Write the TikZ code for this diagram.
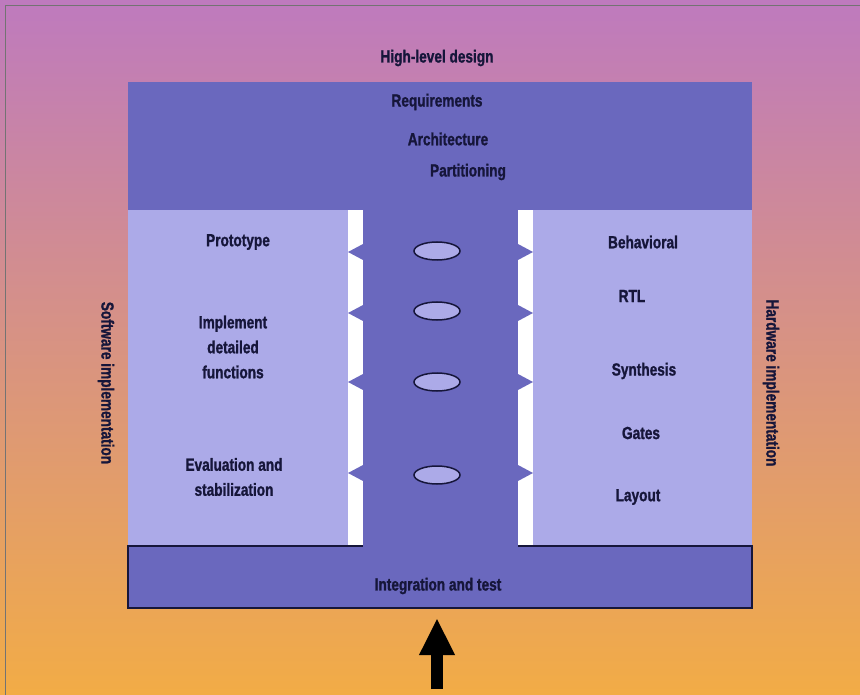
\documentclass[tikz,border=0pt]{standalone}
\usepackage{fontspec}
\setmainfont{Liberation Sans}[FakeStretch=0.78, BoldFeatures={FakeBold=1.2}]
\usetikzlibrary{arrows.meta,shapes.geometric}
\definecolor{bgtop}{RGB}{190,122,190}
\definecolor{bgmid}{RGB}{216,138,150}
\definecolor{bgbot}{RGB}{242,172,70}
\definecolor{band}{RGB}{106,104,190}
\definecolor{panel}{RGB}{172,170,232}
\definecolor{ink}{RGB}{22,22,58}
\tikzset{
  lbl/.style={text=ink, font=\bfseries\fontsize{17.5}{25}\selectfont, inner sep=0pt, align=center},
  slot/.style={ellipse, draw=ink, fill=panel, line width=1.5pt, minimum width=46pt, minimum height=18pt, inner sep=0pt},
}
\begin{document}
\begin{tikzpicture}[x=1pt, y=-1pt]
\useasboundingbox (0,0) rectangle (860,695);
% background
\shade[top color=bgtop, middle color=bgmid, bottom color=bgbot] (0,0) rectangle (860,695);
\draw[black!55, line width=0.8pt] (5,695) -- (5,5) -- (860,5);
% high-level design band
\fill[band] (128,82) rectangle (752,210);
% side panels
\fill[panel] (128,210) rectangle (348,546);
\fill[panel] (533,210) rectangle (752,546);
% white gaps and central column
\fill[white] (348,210) rectangle (363,546);
\fill[white] (518,210) rectangle (533,546);
\fill[band] (363,210) rectangle (518,546);
\foreach \ty in {252,313,382,473}{
  \fill[band] (363,\ty-8) -- (348,\ty) -- (363,\ty+8) -- cycle;
  \fill[band] (518,\ty-8) -- (533,\ty) -- (518,\ty+8) -- cycle;
}
% integration band
\fill[band] (128,546) rectangle (752,608);
\draw[ink, line width=1.2pt] (363,546) -- (128,546) -- (128,608) -- (752,608) -- (752,546) -- (518,546);
% ellipses in the central column
\node[slot] (s1) at (437,251) {};
\node[slot] (s2) at (437,311) {};
\node[slot] (s3) at (437,382) {};
\node[slot] (s4) at (437,475) {};
% labels
\node[lbl] (hld) at (437,58) {High-level design};
\node[lbl] (req) at (437,102) {Requirements};
\node[lbl] (arch) at (448,139) {Architecture};
\node[lbl] (part) at (468,172) {Partitioning};
\node[lbl] (proto) at (238,242) {Prototype};
\node[lbl] (impl) at (233,347) {Implement\\detailed\\functions};
\node[lbl] (eval) at (234,477) {Evaluation and\\stabilization};
\node[lbl] (beh) at (643,242) {Behavioral};
\node[lbl] (rtl) at (632,296) {RTL};
\node[lbl] (syn) at (644,371) {Synthesis};
\node[lbl] (gates) at (641,433) {Gates};
\node[lbl] (lay) at (638,497) {Layout};
\node[lbl] (integ) at (438,586) {Integration and test};
\node[lbl, rotate=-90] (sw) at (106,383) {Software implementation};
\node[lbl, rotate=-90] (hw) at (771,383) {Hardware implementation};
% input arrow
\coordinate (arrowfoot) at (437,689);
\coordinate (arrowtip) at (437,618);
\draw[black, line width=12pt, -{Triangle[length=37pt, width=33pt]}] (arrowfoot) -- (arrowtip);
\end{tikzpicture}
\end{document}
